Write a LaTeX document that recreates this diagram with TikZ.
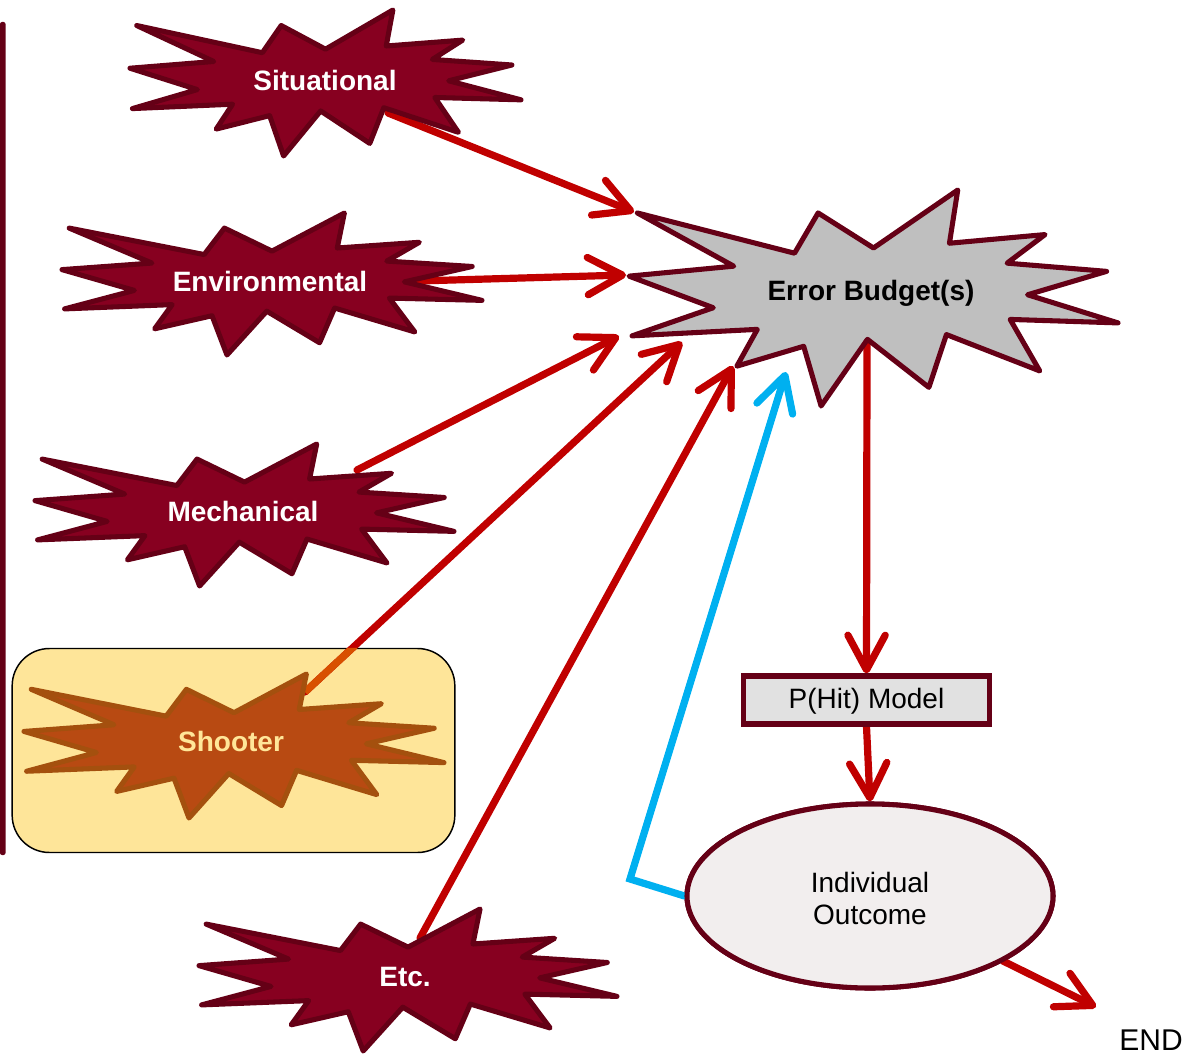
\documentclass[tikz,border=0pt]{standalone}
\usepackage{fontspec}
\setmainfont{Liberation Sans}
\usetikzlibrary{arrows.meta,shapes.geometric}
\definecolor{burstfill}{HTML}{870020}
\definecolor{darkmaroon}{HTML}{650016}
\definecolor{arrowred}{HTML}{C00000}
\definecolor{ebgray}{HTML}{BFBFBF}
\definecolor{shootfill}{HTML}{B84A12}
\definecolor{shootdraw}{HTML}{A4500E}
\definecolor{shoottext}{HTML}{FFE699}
\definecolor{boxyellow}{HTML}{FEE599}
\definecolor{phitgray}{HTML}{E1E1E1}
\definecolor{outfill}{HTML}{F2EEEE}
\definecolor{skyblue}{HTML}{00B0F0}
\definecolor{inboxline}{HTML}{D85000}
\newcommand\burstshape[6]{%
  \begin{scope}[shift={(#2,#3)},xscale=#4,yscale=#5]
    \draw[#6] (0.5,0.2685) -- (0.6723,0) -- (0.6553,0.2465) -- (0.8509,0.2063)
      -- (0.7732,0.3387) -- (0.9767,0.3767) -- (0.8151,0.485) -- (1,0.6153)
      -- (0.7795,0.5992) -- (0.84,0.8377) -- (0.6491,0.6693) -- (0.6133,0.9138)
      -- (0.4876,0.6914) -- (0.3928,1) -- (0.3572,0.7235) -- (0.2205,0.8156)
      -- (0.2624,0.6452) -- (0.00625,0.6753) -- (0.1723,0.5451) -- (0,0.3988)
      -- (0.2142,0.3526) -- (0.0171,0.1063) -- (0.3385,0.2926) -- (0.3867,0.1063) -- cycle;
    \coordinate (#1) at (0.5,0.5);
  \end{scope}}
\begin{document}
\begin{tikzpicture}[x=0.75pt,y=-0.75pt,
  redarrow/.style={draw=arrowred,line width=5.4pt,line cap=round,-{Straight Barb[length=26pt,width=28pt,round]}},
  bluearrow/.style={draw=skyblue,line width=5.4pt,line cap=round,line join=miter,-{Straight Barb[length=26pt,width=28pt,round]}},
  burstred/.style={fill=burstfill,draw=darkmaroon,line width=3.8pt,line join=round},
  burstgray/.style={fill=ebgray,draw=darkmaroon,line width=3.8pt,line join=round},
  burstorange/.style={fill=shootfill,draw=shootdraw,line width=3.8pt,line join=round},
  blabel/.style={font=\bfseries\fontsize{21pt}{24pt}\selectfont,text=white,inner sep=0pt},
  plainlabel/.style={font=\fontsize{21pt}{24pt}\selectfont,text=black,inner sep=0pt,align=center},
  shootbox/.style={draw=black,line width=1.1pt,fill=boxyellow,rounded corners=28pt,minimum width=332pt,minimum height=153pt,inner sep=0pt},
  phitbox/.style={draw=darkmaroon,line width=3.8pt,fill=phitgray,minimum width=185pt,minimum height=36pt,inner sep=0pt},
  outcomebox/.style={ellipse,draw=darkmaroon,line width=3.8pt,fill=outfill,minimum width=274.5pt,minimum height=138pt,inner sep=0pt}
]
\useasboundingbox (0,0) rectangle (1195,1055);
% left bar
\fill[darkmaroon,rounded corners=1.5pt] (0,22) rectangle (5.5,855);
% shooter box
\node[shootbox] (sbox) at (233.5,750.5) {};
% connector end points
\coordinate (sitout) at (388,113);
\coordinate (envout) at (418,281);
\coordinate (mechout) at (357,470);
\coordinate (shootout) at (305,692);
\coordinate (etcout) at (420,938);
\coordinate (ebin1) at (634,212);
\coordinate (ebin2) at (626,275);
\coordinate (ebin3) at (619,336);
\coordinate (ebin4) at (682,342);
\coordinate (ebin5) at (733,366);
\coordinate (ebin6) at (786,372);
\coordinate (ebout) at (867,345);
\coordinate (bcorner) at (630,879);
\coordinate (outse) at (1003,961);
\coordinate (endtip) at (1096,1007);
% red connectors
\draw[redarrow] (sitout) -- (ebin1);
\draw[redarrow] (envout) -- (ebin2);
\draw[redarrow] (mechout) -- (ebin3);
\draw[redarrow] (shootout) -- (ebin4);
\draw[redarrow] (etcout) -- (ebin5);
\begin{scope}
  \clip[rounded corners=28pt] (sbox.south west) rectangle (sbox.north east);
  \draw[draw=inboxline,line width=5.4pt] (shootout) -- (ebin4);
\end{scope}
\node[phitbox] (phit) at (866.5,700) {};
\node[outcomebox] (outc) at (870,896) {};
\draw[redarrow] (ebout) -- (phit.north);
\draw[redarrow] (phit.south) -- (outc.north);
\draw[redarrow] (outse) -- (endtip);
\draw[bluearrow] (outc.west) -- (bcorner) -- (ebin6);
% redraw boxes over connector starts
\node[phitbox] (phit2) at (866.5,700) {};
\node[outcomebox] (outc2) at (870,896) {};
% starbursts
\burstshape{sit}{130}{10}{391}{146}{burstred}
\burstshape{env}{62}{213}{420}{142}{burstred}
\burstshape{mech}{35}{444}{419}{142}{burstred}
\burstshape{shoot}{24}{674}{420}{144}{burstorange}
\burstshape{eb}{629}{190}{489}{216}{burstgray}
\burstshape{etc}{199}{909}{418}{142}{burstred}
% labels
\node[blabel] (sitl) at (325,80) {Situational};
\node[blabel] (envl) at (270,281) {Environmental};
\node[blabel] (mechl) at (243,511) {Mechanical};
\node[blabel,text=shoottext] (shootl) at (231,741) {Shooter};
\node[blabel] (etcl) at (405,977) {Etc.};
\node[blabel,text=black] (ebl) at (871,293) {Error Budget(s)};
\node[plainlabel] (phitl) at (866.5,701) {P(Hit) Model};
\node[plainlabel] (outl) at (870,898) {Individual\\Outcome};
\node[plainlabel,font=\fontsize{22.5pt}{26pt}\selectfont] (endl) at (1151,1040) {END};
\end{tikzpicture}
\end{document}
